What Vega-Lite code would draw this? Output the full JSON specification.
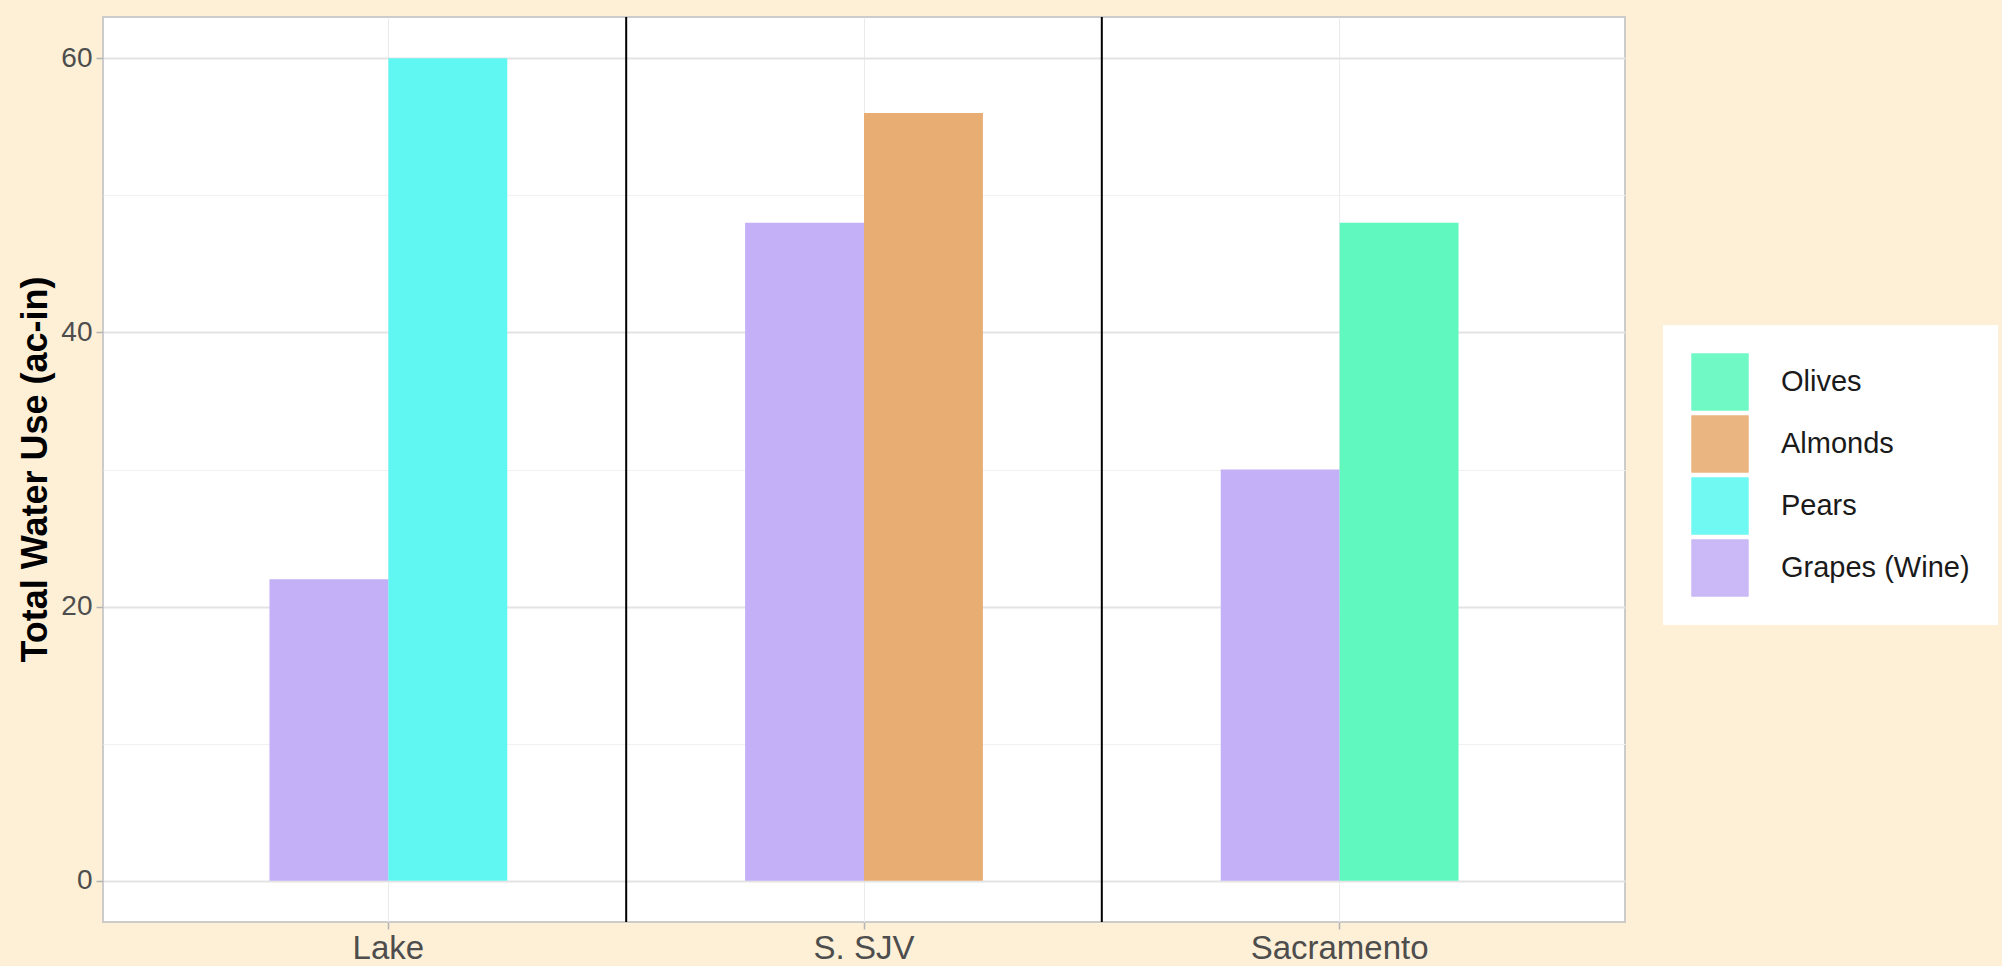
{
  "$schema": "https://vega.github.io/schema/vega-lite/v6.json",
  "width": 1522,
  "height": 905,
  "autosize": {"type": "none"},
  "padding": {"left": 103, "top": 17, "right": 377, "bottom": 44},
  "background": "#fdf0d7",
  "config": {
    "font": "Liberation Sans",
    "view": {"fill": "white", "stroke": "#cccccc", "strokeWidth": 2},
    "axisX": {
      "title": null,
      "labelAngle": 0,
      "labelFontSize": 33,
      "labelColor": "#4d4d4d",
      "labelPadding": 3,
      "tickSize": 7,
      "tickColor": "#b3b3b3",
      "tickWidth": 1.5,
      "grid": true,
      "gridColor": "#ebebeb",
      "gridWidth": 1,
      "bandPosition": 0.5,
      "domain": false
    }
  },
  "layer": [
    {
      "data": {
        "values": [
          {"region": "Lake", "crop": "Grapes (Wine)", "comparison": "Wine grapes", "water_use": 22},
          {"region": "Lake", "crop": "Pears", "comparison": "Alternative crop", "water_use": 60},
          {"region": "S. SJV", "crop": "Grapes (Wine)", "comparison": "Wine grapes", "water_use": 48},
          {"region": "S. SJV", "crop": "Almonds", "comparison": "Alternative crop", "water_use": 56},
          {"region": "Sacramento", "crop": "Grapes (Wine)", "comparison": "Wine grapes", "water_use": 30},
          {"region": "Sacramento", "crop": "Olives", "comparison": "Alternative crop", "water_use": 48}
        ]
      },
      "mark": {"type": "bar"},
      "encoding": {
        "x": {
          "field": "region",
          "type": "nominal",
          "title": null,
          "scale": {"domain": ["Lake", "S. SJV", "Sacramento"], "paddingInner": 0.5, "paddingOuter": 0.35}
        },
        "xOffset": {
          "field": "comparison",
          "type": "nominal",
          "scale": {"domain": ["Wine grapes", "Alternative crop"], "paddingInner": 0, "paddingOuter": 0}
        },
        "y": {
          "field": "water_use",
          "type": "quantitative",
          "stack": null,
          "scale": {"domain": [-3, 63], "nice": false, "zero": false},
          "axis": {
            "values": [0, 10, 20, 30, 40, 50, 60],
            "labelExpr": "datum.value % 20 === 0 ? datum.label : ''",
            "title": "Total Water Use (ac-in)",
            "titleFontWeight": "bold",
            "titleFontSize": 36,
            "titleColor": "black",
            "titleX": -68,
            "titleY": 452,
            "titleBaseline": "middle",
            "labelFontSize": 28,
            "labelColor": "#4d4d4d",
            "labelPadding": 4,
            "tickSize": 7,
            "tickColor": "#b3b3b3",
            "tickWidth": 1.5,
            "tickOpacity": {"condition": {"test": "datum.value % 20 === 0", "value": 1}, "value": 0},
            "gridColor": {"condition": {"test": "datum.value % 20 === 0", "value": "#e3e3e3"}, "value": "#f1f1f1"},
            "gridWidth": {"condition": {"test": "datum.value % 20 === 0", "value": 2}, "value": 1},
            "domain": false
          }
        },
        "color": {
          "field": "crop",
          "type": "nominal",
          "scale": {
            "domain": ["Olives", "Almonds", "Pears", "Grapes (Wine)"],
            "range": ["#60f8bf", "#e8ad73", "#60f7f2", "#c4b0f6"]
          },
          "legend": {
            "orient": "none",
            "legendX": 1560,
            "legendY": 308,
            "title": null,
            "fillColor": "white",
            "padding": 28,
            "symbolType": "square",
            "symbolSize": 3300,
            "symbolStrokeWidth": 0,
            "symbolOpacity": 0.9,
            "labelFontSize": 29,
            "labelColor": "#1a1a1a",
            "labelOffset": 32,
            "labelLimit": 400,
            "rowPadding": 4
          }
        }
      }
    },
    {
      "data": {"values": [{"region": "S. SJV"}, {"region": "Sacramento"}]},
      "mark": {"type": "rule", "color": "black", "strokeWidth": 2},
      "encoding": {
        "x": {
          "field": "region",
          "type": "nominal",
          "title": null,
          "bandPosition": -0.5,
          "scale": {"domain": ["Lake", "S. SJV", "Sacramento"]}
        }
      }
    }
  ]
}
